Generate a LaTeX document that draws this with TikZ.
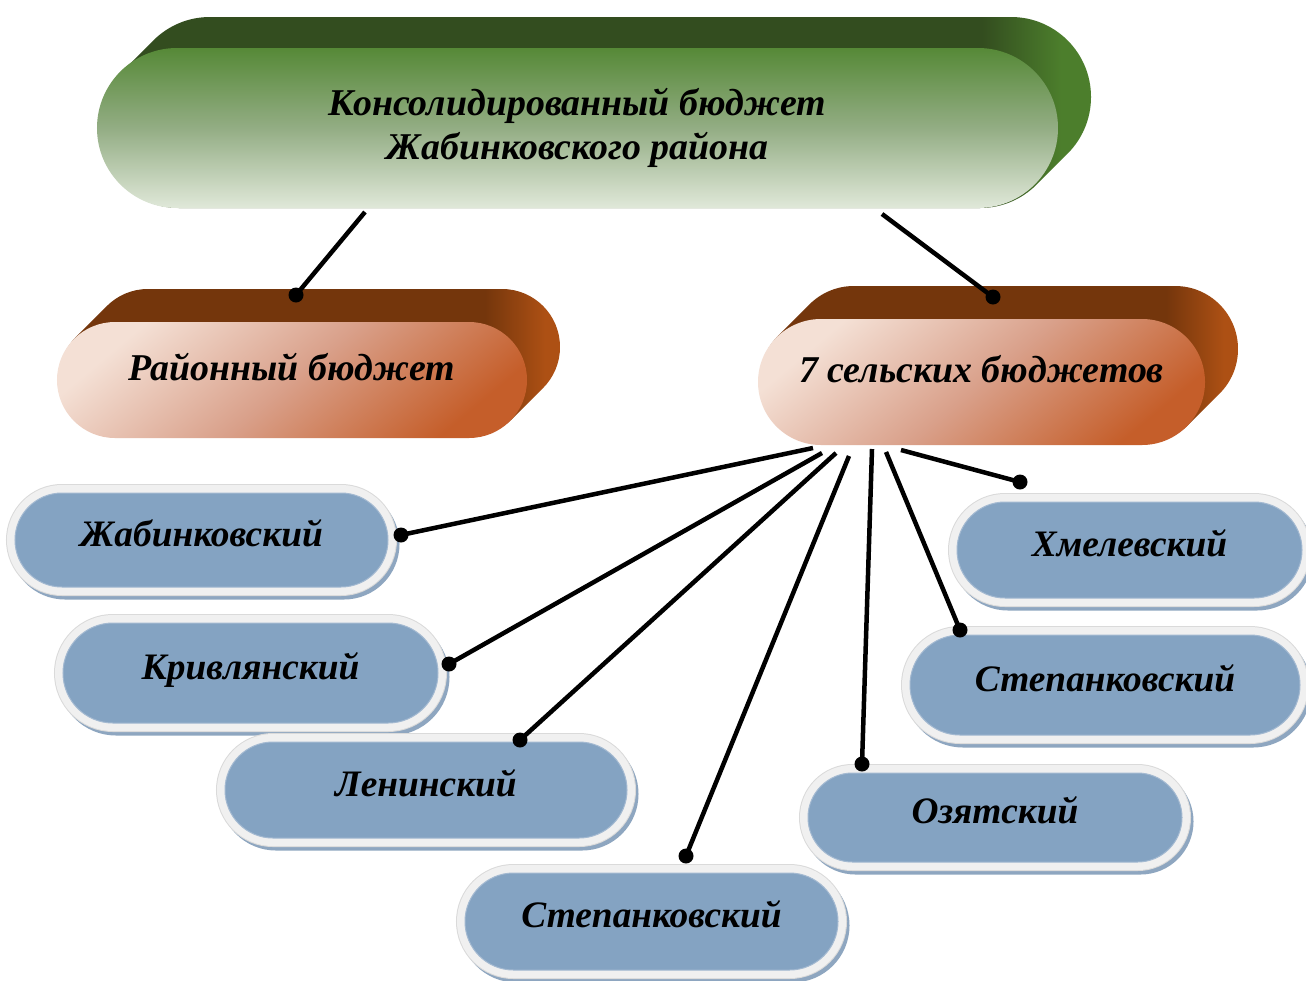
\documentclass[tikz,border=0pt]{standalone}
\usepackage{fontspec}
\setmainfont{Liberation Serif}
\usetikzlibrary{shapes.misc}
\definecolor{gtop}{HTML}{568937}
\definecolor{gmid}{HTML}{93AD84}
\definecolor{gbot}{HTML}{E0E8D9}
\definecolor{gextM}{HTML}{334D1F}
\definecolor{gextR}{HTML}{4C7E2C}
\definecolor{btl}{HTML}{F4E0D5}
\definecolor{bmid}{HTML}{D9A08A}
\definecolor{bbr}{HTML}{C55E2A}
\definecolor{bextM}{HTML}{74360C}
\definecolor{bextR}{HTML}{AD5014}
\definecolor{pillblue}{HTML}{84A3C2}
\definecolor{pilledge}{HTML}{A3B9D1}
\definecolor{ringgray}{HTML}{F0F0F0}
\definecolor{ringedge}{HTML}{DADADA}
\definecolor{shadowblue}{HTML}{8EA6C0}
% the path's bounding box spans 25bp..75bp of these shadings
\pgfdeclarehorizontalshading{greenext}{100bp}{color(0bp)=(gextM); color(69.5bp)=(gextM); color(73.5bp)=(gextR); color(100bp)=(gextR)}
\pgfdeclarehorizontalshading{brownext}{100bp}{color(0bp)=(bextM); color(67.5bp)=(bextM); color(73.5bp)=(bextR); color(100bp)=(bextR)}
\begin{document}
\begin{tikzpicture}[x=1bp,y=-1bp,
  labeltext/.style={font=\fontsize{37.5}{40}\selectfont\bfseries\itshape, text=black},
  greenface/.style={rounded rectangle, inner sep=0pt, top color=gtop, bottom color=gbot, middle color=gmid,
     font=\fontsize{38}{44}\selectfont\bfseries\itshape, align=center},
  brownface/.style={rounded rectangle, inner sep=0pt, top color=btl, bottom color=bbr, middle color=bmid, shading angle=40,
     font=\fontsize{38}{40}\selectfont\bfseries\itshape, text height=20bp, text depth=20bp},
  bluepill/.style={rounded rectangle, inner sep=0pt, fill=pillblue, draw=pilledge, line width=1bp,
     preaction={draw=shadowblue, line width=17bp, transform canvas={shift={(3bp,-4bp)}}},
     preaction={draw=ringedge, line width=18bp},
     preaction={draw=ringgray, line width=16bp},
     labeltext, text height=24bp, text depth=12bp},
  conn/.style={draw=black, line width=4.5bp},
  enddot/.style={circle, fill=black, inner sep=0pt, minimum size=15bp}
]
\useasboundingbox (0,0) rectangle (1306,980);
\fill[white] (0,0) rectangle (1306,980);

% ---- top green block: extrusion then face
\shade[rounded corners=79.9bp, shading=greenext]
  \foreach \k in {2,...,33} { (97+\k,50-\k) rectangle (1058+\k,210-\k) };
\node[greenface, minimum width=961bp, minimum height=160bp] (top) at (577.5,128)
  {Консолидированный бюджет\\Жабинковского района};

% ---- brown blocks
\shade[rounded corners=57.9bp, shading=brownext]
  \foreach \k in {2,...,33} { (57+\k,322-\k) rectangle (527+\k,438-\k) };
\node[brownface, minimum width=470bp, minimum height=116bp] (rayon) at (292,380) {Районный бюджет};

\shade[rounded corners=62.9bp, shading=brownext]
  \foreach \k in {2,...,33} { (758+\k,319-\k) rectangle (1205+\k,445-\k) };
\node[brownface, minimum width=447bp, minimum height=126bp] (seven) at (981.5,382) {7 сельских бюджетов};

% ---- blue pills
\node[bluepill, minimum width=373bp, minimum height=94bp]  (zhab)  at (201.5,540)  {Жабинковский};
\node[bluepill, minimum width=375bp, minimum height=100bp] (kriv)  at (250.5,673)  {Кривлянский};
\node[bluepill, minimum width=402bp, minimum height=96bp]  (lenin) at (426,790)    {Ленинский};
\node[bluepill, minimum width=373bp, minimum height=97bp]  (stepB) at (651.5,921.5){Степанковский};
\node[bluepill, minimum width=374bp, minimum height=89bp]  (ozyat) at (995,817.5)  {Озятский};
\node[bluepill, minimum width=390bp, minimum height=100bp] (stepR) at (1105,685)   {Степанковский};
\node[bluepill, minimum width=345bp, minimum height=96bp]  (hmel)  at (1129.5,550) {Хмелевский};

% ---- connector end points
\coordinate (ta) at (365,212);  \coordinate (ra) at (296,295);
\coordinate (tb) at (882,214);  \coordinate (sa) at (993,297);
\coordinate (s1) at (813,448);  \coordinate (e1) at (401,535);
\coordinate (s2) at (822,453);  \coordinate (e2) at (449,664);
\coordinate (s3) at (836,453);  \coordinate (e3) at (520,740);
\coordinate (s4) at (849,456);  \coordinate (e4) at (686,856);
\coordinate (s5) at (872,449);  \coordinate (e5) at (862,764);
\coordinate (s6) at (886,452);  \coordinate (e6) at (960,630);
\coordinate (s7) at (901,450);  \coordinate (e7) at (1020,482);

\draw[conn] (ta) -- (ra) node[enddot]{};
\draw[conn] (tb) -- (sa) node[enddot]{};
\draw[conn] (s1) -- (e1) node[enddot]{};
\draw[conn] (s2) -- (e2) node[enddot]{};
\draw[conn] (s3) -- (e3) node[enddot]{};
\draw[conn] (s4) -- (e4) node[enddot]{};
\draw[conn] (s5) -- (e5) node[enddot]{};
\draw[conn] (s6) -- (e6) node[enddot]{};
\draw[conn] (s7) -- (e7) node[enddot]{};
\end{tikzpicture}
\end{document}
